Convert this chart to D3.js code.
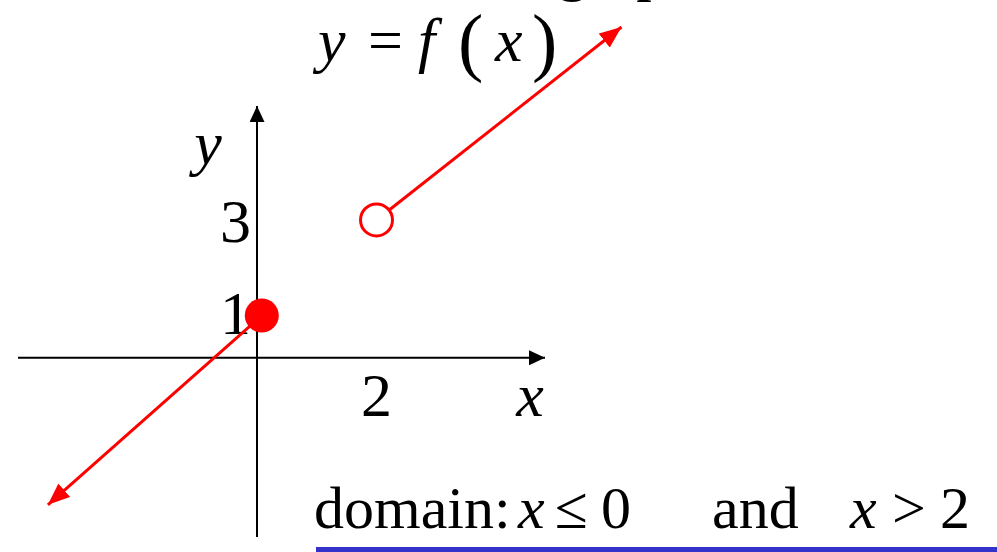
<!DOCTYPE html>
<html>
<head>
<meta charset="utf-8">
<script src="https://cdn.jsdelivr.net/npm/d3@7"></script>
<style>
  body { margin:0; background:#fff; }
  svg { display:block; }
</style>
</head>
<body>
<svg width="997" height="552"></svg>
<script>
// axis extents (data units)
var xAxisExtent = [-4, 4.82];
var yAxisExtent = [-3.9, 5.48];

// rays of y = f(x): start point -> arrow tip
var rayStarts = [[0.08, 0.92], [2, 3]];
var rayEnds   = [[-3.5, -3.2], [6.1, 7.2]];

// end points
var closedPoints = [[0.08, 0.92]];
var openPoints   = [[2, 3]];

// tick labels
var xTicks = [2];
var yTicks = [1, 3];

var FONT = "'Liberation Serif', 'Times New Roman', serif";

var svg = d3.select("svg");

var x = d3.scaleLinear().domain(xAxisExtent).range([18, 545]);
var y = d3.scaleLinear().domain(yAxisExtent).range([537, 106]);

var defs = svg.append("defs");
function arrow(id, color, len, wid){
  defs.append("marker").attr("id", id)
      .attr("markerUnits", "userSpaceOnUse")
      .attr("viewBox", "0 0 " + len + " " + wid)
      .attr("refX", len).attr("refY", wid/2)
      .attr("markerWidth", len).attr("markerHeight", wid)
      .attr("orient", "auto")
    .append("path")
      .attr("d", "M0,0L" + len + "," + wid/2 + "L0," + wid + "Z")
      .attr("fill", color);
}
arrow("blk", "#000", 16, 15);
arrow("red", "#ff0000", 22, 18);

// axes
svg.append("line")
   .attr("x1", x(xAxisExtent[0])).attr("x2", x(xAxisExtent[1]))
   .attr("y1", y(0)).attr("y2", y(0))
   .attr("stroke", "#000").attr("stroke-width", 2)
   .attr("marker-end", "url(#blk)");
svg.append("line")
   .attr("x1", x(0)).attr("x2", x(0))
   .attr("y1", y(yAxisExtent[0])).attr("y2", y(yAxisExtent[1]))
   .attr("stroke", "#000").attr("stroke-width", 2)
   .attr("marker-end", "url(#blk)");

// tick labels
svg.selectAll("text.xt")
   .data(xTicks).enter()
   .append("text").attr("class", "xt")
   .attr("x", function(d){ return x(d); })
   .attr("y", y(0) + 58)
   .attr("text-anchor", "middle")
   .attr("font-family", FONT)
   .attr("font-size", "62px")
   .text(function(d){ return d; });

svg.selectAll("text.yt")
   .data(yTicks).enter()
   .append("text").attr("class", "yt")
   .attr("x", x(0) - 6)
   .attr("y", function(d){ return y(d) + 22; })
   .attr("text-anchor", "end")
   .attr("font-family", FONT)
   .attr("font-size", "62px")
   .text(function(d){ return d; });

// axis names
svg.append("text").attr("x", 530).attr("y", y(0) + 58)
   .attr("text-anchor", "middle").attr("font-size", "62px")
   .attr("font-family", FONT)
   .attr("font-style", "italic").text("x");
svg.append("text").attr("x", 208).attr("y", 164)
   .attr("text-anchor", "middle").attr("font-size", "62px")
   .attr("font-family", FONT)
   .attr("font-style", "italic").text("y");

// rays
svg.selectAll("line.ray")
   .data(rayStarts).enter()
   .append("line").attr("class", "ray")
   .attr("x1", function(d){ return x(d[0]); })
   .attr("y1", function(d){ return y(d[1]); })
   .attr("x2", function(d, i){ return x(rayEnds[i][0]); })
   .attr("y2", function(d, i){ return y(rayEnds[i][1]); })
   .attr("stroke", "#ff0000")
   .attr("stroke-width", 3)
   .attr("marker-end", "url(#red)");

// end points
svg.selectAll("circle.closed")
   .data(closedPoints).enter()
   .append("circle").attr("class", "closed")
   .attr("cx", function(d){ return x(d[0]); })
   .attr("cy", function(d){ return y(d[1]); })
   .attr("r", 17)
   .attr("fill", "#ff0000");

svg.selectAll("circle.open")
   .data(openPoints).enter()
   .append("circle").attr("class", "open")
   .attr("cx", function(d){ return x(d[0]); })
   .attr("cy", function(d){ return y(d[1]); })
   .attr("r", 16)
   .attr("fill", "#fff")
   .attr("stroke", "#ff0000")
   .attr("stroke-width", 3);

// title y = f(x)
var title = svg.append("text").attr("y", 61)
   .attr("font-family", FONT).attr("font-size", "62px");
title.append("tspan").attr("x", 318).attr("font-style", "italic").text("y");
title.append("tspan").attr("x", 368).text("=");
title.append("tspan").attr("x", 418).attr("font-style", "italic").text("f");
title.append("tspan").attr("x", 458).attr("font-size", "76px").attr("dy", 6).text("(");
title.append("tspan").attr("x", 495).attr("font-style", "italic").attr("dy", -6).text("x");
title.append("tspan").attr("x", 532).attr("font-size", "76px").attr("dy", 6).text(")");

// heading cut off at the top edge
svg.append("text").attr("x", 557).attr("y", -11)
   .attr("font-family", FONT)
   .attr("font-size", "62px").text("graph");

// domain line
var dom = svg.append("text").attr("y", 528)
   .attr("font-family", FONT).attr("font-size", "60px");
dom.append("tspan").attr("x", 314).text("domain:");
dom.append("tspan").attr("x", 518).attr("font-style", "italic").text("x");
dom.append("tspan").attr("x", 555).text("\u2264");
dom.append("tspan").attr("x", 601).text("0");
dom.append("tspan").attr("x", 712).text("and");
dom.append("tspan").attr("x", 850).attr("font-style", "italic").text("x");
dom.append("tspan").attr("x", 892).text(">");
dom.append("tspan").attr("x", 940).text("2");

svg.append("rect")
   .attr("x", 316).attr("y", 547)
   .attr("width", 997 - 316).attr("height", 5)
   .attr("fill", "#3333cc");
</script>
</body>
</html>
